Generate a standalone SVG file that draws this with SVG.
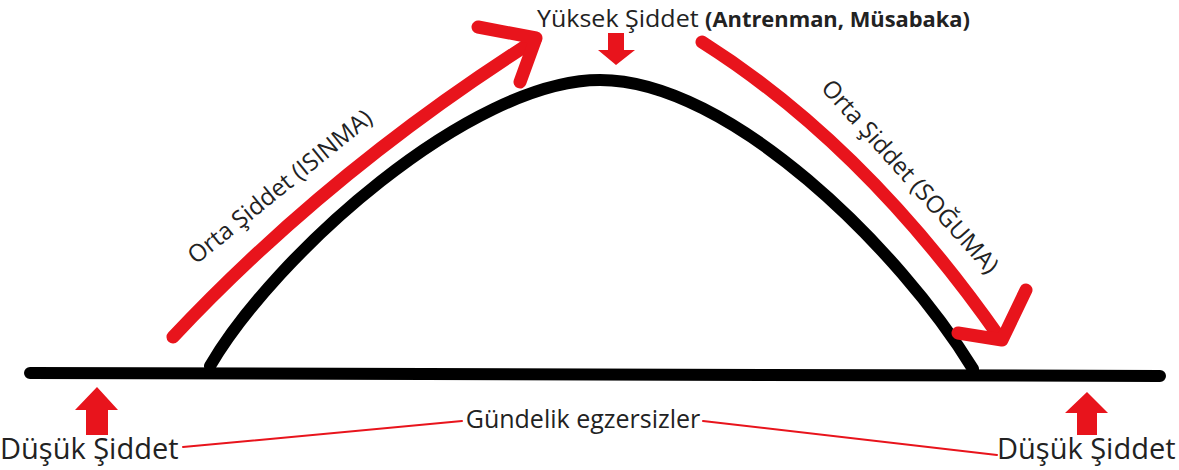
<svg xmlns="http://www.w3.org/2000/svg" width="1179" height="470" viewBox="0 0 1179 470">
<style>
.lbl{font-family:"Open Sans","Noto Sans","Liberation Sans",sans-serif;fill:#222}
.red{fill:none;stroke:#e8141c;stroke-linecap:round;stroke-linejoin:round}
.blk{fill:none;stroke:#000;stroke-linecap:round;stroke-linejoin:round}
.arr{fill:#e8141c}
</style>
<rect width="1179" height="470" fill="#fff"/>
<g id="connectors">
<path class="blk" stroke-width="12" d="M30,373 L1160,376"/>
<path class="blk" stroke-width="12" d="M210,366 C275,255 470,80 600,80 C730,80 900,250 973,369"/>
<path class="red" stroke-width="13" d="M173,337 Q330,170 535,40"/>
<path class="red" stroke-width="13" d="M478,27 L536,38 L520,82"/>
<path class="red" stroke-width="13" d="M702,42 Q865,145 1000,338"/>
<path class="red" stroke-width="13" d="M1026,290 L1002,340 L958,333"/>
<path class="red" stroke-width="2" d="M183,447 L462,421"/>
<path class="red" stroke-width="2" d="M703,421 L997,455"/>
</g>
<g id="top-label">
<text class="lbl" x="537" y="27" font-size="24" textLength="433" lengthAdjust="spacingAndGlyphs">Yüksek Şiddet <tspan font-weight="bold" font-size="21">(Antrenman, Müsabaka)</tspan></text>
<path class="arr" d="M608,33 H624 V50 H635 L616,65 L598,50 H608 Z"/>
</g>
<g id="warmup-label">
<text class="lbl" font-size="24" text-anchor="middle" transform="translate(285,193) rotate(-39)">Orta Şiddet (ISINMA)</text>
</g>
<g id="cooldown-label">
<text class="lbl" font-size="24" text-anchor="middle" transform="translate(904,182) rotate(48)">Orta Şiddet (SOĞUMA)</text>
</g>
<g id="daily-label">
<text class="lbl" x="583" y="428" font-size="25" text-anchor="middle">Gündelik egzersizler</text>
</g>
<g id="low-left">
<path class="arr" d="M86,435 V410 H75 L97,387 L118,410 H108 V435 Z"/>
<text class="lbl" x="0" y="459" font-size="29">Düşük Şiddet</text>
</g>
<g id="low-right">
<path class="arr" d="M1077,435 V413 H1065 L1087,392 L1108,413 H1097 V435 Z"/>
<text class="lbl" x="997" y="459" font-size="29">Düşük Şiddet</text>
</g>
</svg>
